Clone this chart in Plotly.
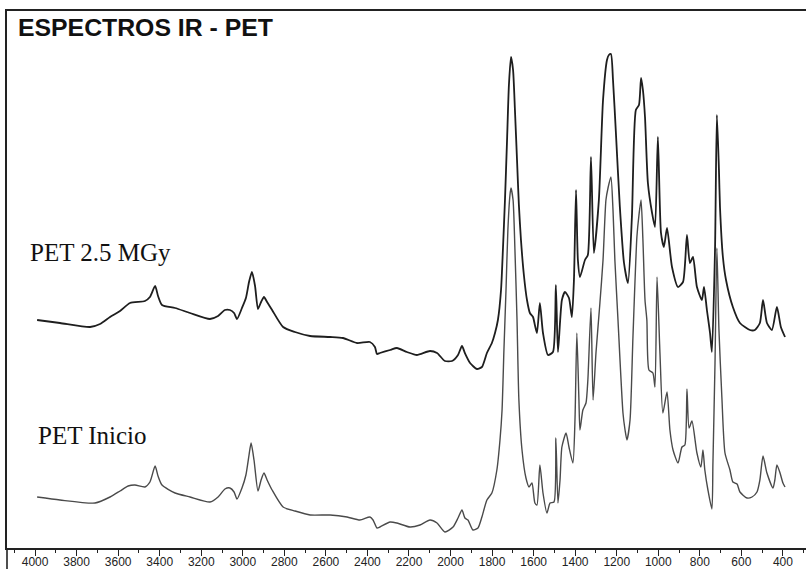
import plotly.graph_objects as go

# ---- Data (wavenumber cm-1, intensity a.u.) ----
wn_irr = [3990, 3880, 3735, 3687, 3639, 3591, 3543, 3471, 3447, 3422, 3408, 3389, 3326, 3254,
          3158, 3119, 3086, 3062, 3042, 3028, 3004, 2985, 2970, 2956, 2941, 2927, 2912, 2898,
          2883, 2859, 2806, 2749, 2676, 2580, 2518, 2450, 2388, 2364, 2354, 2340, 2291, 2258,
          2210, 2162, 2099, 2065, 2027, 1993, 1964, 1945, 1931, 1906, 1873, 1849, 1825, 1801,
          1786, 1772, 1757, 1748, 1738, 1728, 1719, 1709, 1699, 1690, 1680, 1671, 1661, 1647,
          1632, 1618, 1603, 1594, 1584, 1570, 1555, 1531, 1507, 1493, 1483, 1464, 1449, 1430,
          1416, 1406, 1396, 1387, 1377, 1353, 1339, 1324, 1310, 1286, 1266, 1247, 1238, 1228,
          1218, 1204, 1185, 1165, 1146, 1127, 1108, 1093, 1083, 1074, 1064, 1050, 1030, 1016,
          1002, 987, 973, 958, 934, 905, 881, 862, 848, 833, 814, 790, 780, 766, 751, 742,
          727, 718, 708, 703, 689, 674, 641, 607, 559, 535, 511, 496, 477, 453, 429, 410, 390]
int_irr = [45.6, 45.0, 44.2, 44.8, 46.2, 47.4, 49.0, 49.4, 50.2, 52.4, 50.4, 48.6, 48.0, 47.0,
           45.8, 46.4, 47.6, 47.6, 47.0, 45.8, 48.0, 50.0, 53.2, 55.2, 52.4, 47.8, 49.2, 50.2,
           49.2, 47.6, 44.2, 43.2, 42.4, 42.2, 42.0, 41.0, 41.2, 40.2, 38.8, 39.0, 39.6, 40.0,
           39.2, 38.6, 39.4, 39.0, 37.4, 37.4, 38.6, 40.4, 39.0, 37.0, 35.8, 36.2, 39.0, 41.0,
           43.0, 45.6, 51.6, 59.6, 69.6, 81.6, 92.6, 98.2, 95.6, 87.6, 77.6, 68.6, 61.6, 54.6,
           49.6, 47.0, 46.2, 44.6, 43.0, 49.0, 43.0, 38.6, 39.2, 52.6, 39.2, 49.6, 51.2, 50.0,
           46.2, 53.6, 71.6, 57.6, 54.2, 57.6, 58.6, 78.2, 59.0, 69.6, 89.6, 97.6, 98.6, 98.8,
           93.6, 83.0, 68.2, 57.0, 53.0, 66.2, 87.6, 88.6, 94.0, 91.6, 86.2, 73.0, 67.0, 64.2,
           82.2, 63.0, 60.2, 64.0, 56.2, 52.2, 53.2, 62.6, 57.0, 58.2, 52.2, 49.6, 52.2, 47.6,
           43.0, 39.2, 59.6, 86.6, 75.6, 68.2, 58.2, 53.6, 48.2, 45.0, 43.6, 43.6, 45.0, 49.6,
           45.0, 43.6, 48.2, 44.2, 42.2]

wn_ini = [3990, 3880, 3711, 3639, 3591, 3552, 3519, 3471, 3447, 3422, 3408, 3389, 3326, 3254,
          3158, 3119, 3086, 3062, 3042, 3028, 3004, 2985, 2970, 2960, 2946, 2927, 2912, 2898,
          2883, 2859, 2806, 2749, 2676, 2580, 2498, 2436, 2388, 2373, 2354, 2340, 2291, 2258,
          2195, 2147, 2099, 2065, 2027, 1988, 1964, 1945, 1931, 1916, 1892, 1868, 1849, 1825,
          1801, 1777, 1762, 1752, 1743, 1733, 1724, 1714, 1709, 1699, 1690, 1680, 1671, 1656,
          1637, 1622, 1608, 1594, 1584, 1570, 1555, 1536, 1521, 1502, 1493, 1483, 1473, 1464,
          1444, 1430, 1411, 1401, 1392, 1382, 1377, 1363, 1348, 1339, 1324, 1314, 1300, 1281,
          1266, 1252, 1242, 1228, 1218, 1209, 1194, 1170, 1160, 1151, 1136, 1122, 1103, 1093,
          1083, 1074, 1064, 1055, 1045, 1026, 1016, 1006, 992, 978, 958, 944, 929, 905, 886,
          872, 862, 852, 838, 814, 795, 785, 776, 761, 742, 737, 727, 718, 708, 694, 679, 655,
          641, 621, 607, 573, 549, 525, 511, 496, 477, 448, 439, 429, 414, 400, 390]
int_ini = [10.2, 9.6, 9.0, 10.2, 11.4, 12.4, 12.6, 12.2, 13.2, 16.4, 14.4, 12.6, 11.0, 10.2,
           9.2, 10.2, 11.8, 12.0, 11.2, 9.8, 12.0, 14.6, 18.6, 21.0, 17.6, 11.4, 13.6, 15.0,
           13.6, 11.6, 8.2, 7.4, 6.6, 6.6, 6.2, 5.6, 6.2, 5.6, 4.0, 4.2, 5.2, 5.0,
           4.2, 4.6, 5.6, 5.0, 3.2, 4.2, 6.0, 7.6, 6.0, 5.6, 3.6, 4.0, 6.2, 9.6,
           11.0, 15.6, 21.6, 27.6, 39.6, 51.6, 63.6, 70.6, 72.0, 69.6, 59.6, 45.6, 29.6, 19.6,
           14.0, 12.2, 13.0, 9.0, 8.6, 16.6, 11.0, 7.0, 9.0, 9.2, 22.0, 9.0, 13.6, 20.2,
           23.0, 20.2, 17.0, 25.6, 43.0, 29.6, 23.6, 27.6, 29.0, 33.6, 48.0, 29.6, 39.0, 49.0,
           57.6, 69.6, 72.0, 74.2, 67.6, 57.6, 45.6, 27.0, 23.6, 21.6, 25.6, 42.2, 62.2, 66.6,
           69.6, 61.6, 49.6, 45.6, 35.6, 35.0, 32.2, 54.2, 39.0, 27.0, 31.2, 23.6, 19.6, 17.0, 20.2,
           20.6, 31.8, 24.0, 25.4, 19.0, 16.2, 19.6, 15.6, 11.6, 7.8, 17.0, 37.0, 60.0, 43.6, 30.2, 19.0, 15.6,
           13.2, 12.8, 11.2, 10.0, 10.2, 11.2, 13.6, 18.4, 15.0, 12.0, 13.6, 16.6, 15.0, 13.0, 12.2]

title_text = "ESPECTROS IR - PET"
label_irr = "PET 2.5 MGy"
label_ini = "PET Inicio"

W, H = 806, 569
ml, mr, mt, mb = 7, 0, 11, 21
pw, ph = W - ml - mr, H - mt - mb

def px(xp):
    return (xp - ml) / pw

def py(yp):
    return (H - mb - yp) / ph

fig = go.Figure()
fig.add_trace(go.Scatter(x=wn_irr, y=int_irr, mode="lines", name=label_irr,
                         line=dict(color="#1e1e1e", width=1.8, shape="spline", smoothing=0.6),
                         hoverinfo="skip"))
fig.add_trace(go.Scatter(x=wn_ini, y=int_ini, mode="lines", name=label_ini,
                         line=dict(color="#4a4a4a", width=1.4, shape="spline", smoothing=0.6),
                         hoverinfo="skip"))

fig.update_layout(
    width=W, height=H,
    margin=dict(l=ml, r=mr, t=mt, b=mb, pad=0),
    paper_bgcolor="white", plot_bgcolor="white",
    showlegend=False,
    xaxis=dict(range=[4135, 289], showgrid=False, zeroline=False,
               showline=True, linecolor="#222", linewidth=1.6, mirror=True,
               ticks="outside", ticklen=6, tickwidth=1.4, tickcolor="#222",
               tick0=0, dtick=200, ticklabelstandoff=-4,
               tickfont=dict(family="Liberation Sans, Arial", size=12, color="#222"),
               minor=dict(dtick=100, tick0=0, ticks="outside", ticklen=3,
                          tickwidth=1.2, tickcolor="#222", showgrid=False)),
    yaxis=dict(range=[0, 107.4], showgrid=False, zeroline=False,
               showline=True, linecolor="#222", linewidth=1.6,
               showticklabels=False, ticks=""),
)

fig.add_shape(type="line", xref="paper", yref="paper", x0=0, x1=0,
              y0=-mb / ph, y1=0, line=dict(color="#222", width=1.6))

fig.add_annotation(text="<b>" + title_text + "</b>", xref="paper", yref="paper",
                   x=px(16), y=py(27.5), xanchor="left", yanchor="middle", showarrow=False,
                   font=dict(family="Liberation Sans, Arial", size=24.8, color="#111"))
fig.add_annotation(text=label_irr, xref="paper", yref="paper",
                   x=px(28), y=py(252.5), xanchor="left", yanchor="middle", showarrow=False,
                   font=dict(family="Liberation Serif, Times New Roman", size=25, color="#111"))
fig.add_annotation(text=label_ini, xref="paper", yref="paper",
                   x=px(36), y=py(435.5), xanchor="left", yanchor="middle", showarrow=False,
                   font=dict(family="Liberation Serif, Times New Roman", size=25, color="#111"))

fig.write_html("out.html", config={"displayModeBar": False},
               post_script="document.body.style.margin='0';document.body.style.overflow='hidden';")
